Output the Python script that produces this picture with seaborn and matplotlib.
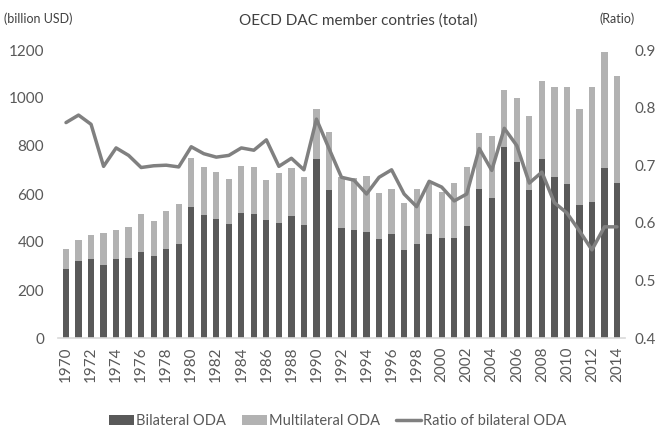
import numpy as np
import pandas as pd
import matplotlib
matplotlib.use("Agg")
import matplotlib.pyplot as plt
import seaborn as sns
from matplotlib.patches import Patch
from matplotlib.lines import Line2D

years = list(range(1970, 2015))
bilateral = [288, 321, 329, 304, 328, 332, 360, 342, 370, 392,
             547, 514, 497, 476, 522, 515, 492, 480, 508, 469,
             745, 617, 460, 450, 440, 412, 432, 367, 390, 433,
             418, 416, 467, 621, 582, 794, 735, 617, 746, 669,
             642, 554, 568, 707, 647]
multilateral = [83, 87, 100, 132, 122, 132, 155, 146, 161, 166,
                204, 200, 193, 188, 195, 196, 166, 206, 199, 203,
                208, 243, 212, 215, 235, 191, 188, 194, 231, 207,
                192, 231, 247, 234, 261, 239, 263, 308, 326, 378,
                405, 399, 476, 486, 445]
ratio = [0.774, 0.787, 0.771, 0.698, 0.730, 0.717, 0.696, 0.699, 0.700, 0.697,
         0.732, 0.720, 0.714, 0.717, 0.730, 0.726, 0.744, 0.698, 0.712, 0.692,
         0.780, 0.729, 0.679, 0.674, 0.650, 0.679, 0.692, 0.650, 0.628, 0.672,
         0.662, 0.638, 0.650, 0.729, 0.691, 0.764, 0.734, 0.669, 0.688, 0.635,
         0.617, 0.586, 0.553, 0.593, 0.593]
left_ticks = [0, 200, 400, 600, 800, 1000, 1200]
right_ticks = [0.4, 0.5, 0.6, 0.7, 0.8, 0.9]

c_bil = "#595959"
c_multi = "#b2b2b2"
c_line = "#808080"
c_text = "#595959"

sns.set_style("white")
plt.rcParams['font.family'] = ['Lato', 'DejaVu Sans']

df = pd.DataFrame({"year": [str(y) for y in years],
                   "bilateral": bilateral,
                   "multilateral": multilateral,
                   "ratio": ratio})
df["total"] = df["bilateral"] + df["multilateral"]
order = df["year"].tolist()

fig = plt.figure(figsize=(6.59, 4.34), dpi=100)
ax = fig.add_axes([58/659, 1-338/434, (625-58)/659, (338-50)/434])

sns.barplot(data=df, x="year", y="total", order=order, color=c_multi,
            width=0.5, saturation=1, ax=ax, edgecolor="none")
sns.barplot(data=df, x="year", y="bilateral", order=order, color=c_bil,
            width=0.5, saturation=1, ax=ax, edgecolor="none")

ax.set_xlim(-0.64, len(years) - 1 + 0.64)
ax.set_ylim(0, 1200)
ax.set_yticks(left_ticks)
ax.set_xlabel("")
ax.set_ylabel("")
ax.set_xticks(range(0, len(years), 2))
ax.set_xticklabels([order[i] for i in range(0, len(years), 2)], rotation=90)
ax.tick_params(axis="both", length=0, labelsize=11, colors=c_text)
ax.tick_params(axis="y", pad=10)
ax.tick_params(axis="x", pad=6)
for s in ["top", "right", "left"]:
    ax.spines[s].set_visible(False)
ax.spines["bottom"].set_color("#d9d9d9")
ax.spines["bottom"].set_linewidth(1.2)

ax2 = ax.twinx()
sns.lineplot(x=np.arange(len(years)), y=df["ratio"].values, ax=ax2,
             color=c_line, linewidth=2.5)
ax2.set_ylim(0.4, 0.9)
ax2.set_yticks(right_ticks)
ax2.set_yticklabels([f"{t:.1f}" for t in right_ticks])
ax2.tick_params(axis="y", length=0, labelsize=11, colors=c_text, pad=7)
for s in ["top", "right", "left", "bottom"]:
    ax2.spines[s].set_visible(False)
ax2.set_ylabel("")

fig.text(358/659, 1-21/434, "OECD DAC member contries (total)", ha="center",
         va="center", fontsize=11, color="#404040")
fig.text(4/659, 1-19/434, "(billion USD)", ha="left", va="center",
         fontsize=9, color="#404040")
fig.text(617/659, 1-19/434, "(Ratio)", ha="center", va="center",
         fontsize=9, color="#404040")

handles = [Patch(facecolor=c_bil, edgecolor="none"),
           Patch(facecolor=c_multi, edgecolor="none"),
           Line2D([0], [0], color=c_line, linewidth=2.5)]
labels = ["Bilateral ODA", "Multilateral ODA", "Ratio of bilateral ODA"]
fig.legend(handles, labels, loc="center", bbox_to_anchor=(338/659, 1-421/434),
           ncol=3, frameon=False, fontsize=10.5, handlelength=1.7,
           handletextpad=0.15, columnspacing=1.1, labelcolor=c_text)

fig.savefig("out.png", dpi=100)
